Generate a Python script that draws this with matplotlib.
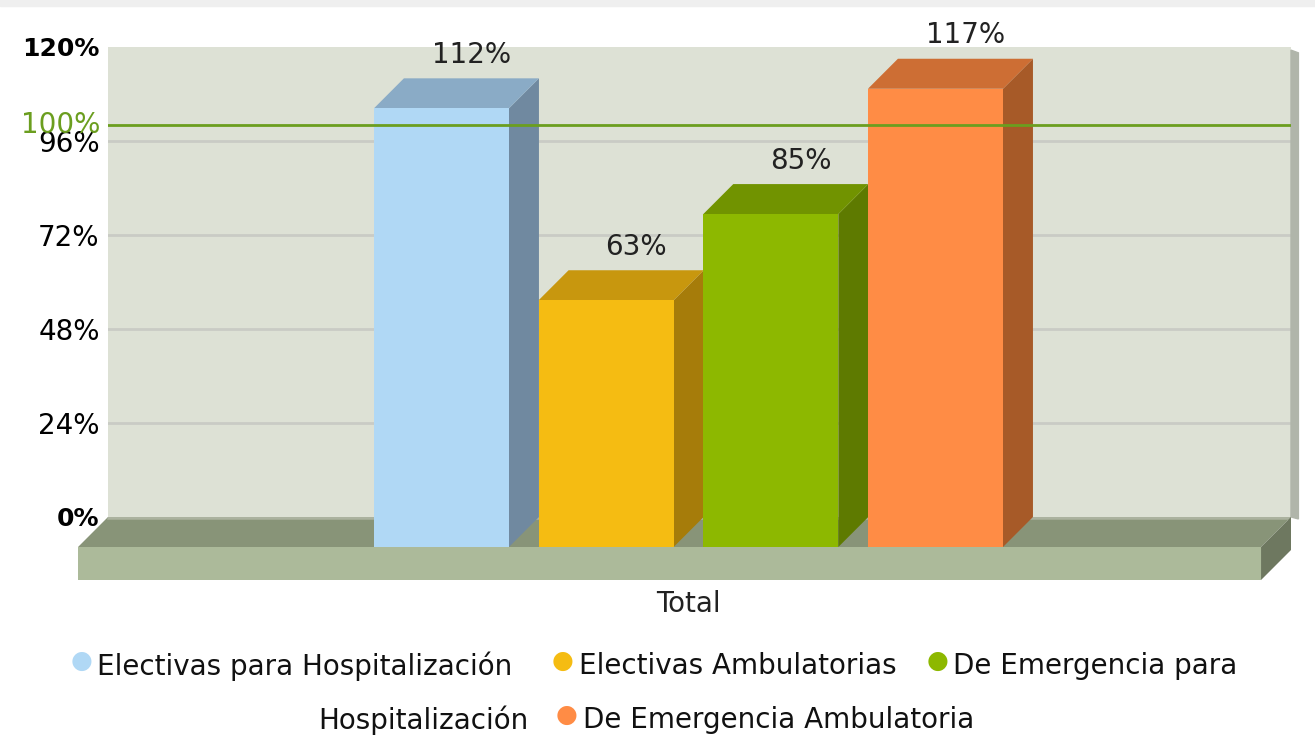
import numpy as np
import matplotlib
matplotlib.use("Agg")
import matplotlib.pyplot as plt
from matplotlib.patches import Polygon, Rectangle
from matplotlib.transforms import blended_transform_factory

plt.rcParams["font.family"] = ["DejaVu Sans"]

# data
series = ["Electivas para Hospitalización", "Electivas Ambulatorias",
          "De Emergencia para Hospitalización", "De Emergencia Ambulatoria"]
values = [112, 63, 85, 117]
category = "Total"
yticks = [0, 24, 48, 72, 96, 120]
target = 100

# colours: front, top, side
front_c = ["#B0D8F5", "#F5BC12", "#8DB800", "#FF8C45"]
top_c = ["#8AABC6", "#C8970E", "#719300", "#CD6E34"]
side_c = ["#7089A0", "#A67C0A", "#5E7A00", "#A75A28"]

FS = 20

W, H = 1315, 736
fig = plt.figure(figsize=(W / 100, H / 100), dpi=100)
fig.patch.set_facecolor("white")
fig.patches.append(Rectangle((0, 1 - 6 / H), 1, 6 / H, transform=fig.transFigure,
                             color="#EFEFEF", zorder=0))

ax = fig.add_axes([108 / W, (H - 517) / H, (1291 - 108) / W, (517 - 47) / H])
x0, x1 = -2.207, 4.977
ax.set_xlim(x0, x1)
ax.set_ylim(0, 120)
ax.set_facecolor("#DDE1D5")
for s in ax.spines.values():
    s.set_visible(False)
ax.set_xticks([])

# 3d depth in data units
DX, DY, FT = 0.182, 7.66, 8.43
bw = 0.82

# grid
for t in yticks[1:-1]:
    ax.axhline(t, color="#C9CBC5", lw=2, zorder=1)

# right wall strip
ax.add_patch(Polygon([(x1, 120 - 0.8), (x1 + 0.045, 120 - 1.5), (x1 + 0.045, -0.5), (x1, 0)],
                     closed=True, color="#B0B5AA", clip_on=False, zorder=1))

# floor
ax.add_patch(Polygon([(x0, 0), (x1, 0), (x1 - DX, -DY), (x0 - DX, -DY)], closed=True,
                     facecolor="#889478", edgecolor="none", clip_on=False, zorder=2))
ax.add_patch(Polygon([(x0, 0), (x1, 0), (x1 - 0.006, -0.7), (x0 - 0.006, -0.7)], closed=True,
                     facecolor="#ABB29F", edgecolor="none", clip_on=False, zorder=2))
ax.add_patch(Rectangle((x0 - DX, -DY - FT), x1 - x0, FT, facecolor="#ACBA9A",
                       edgecolor="none", clip_on=False, zorder=2))
ax.add_patch(Polygon([(x1 - DX, -DY), (x1, 0), (x1, -FT), (x1 - DX, -DY - FT)], closed=True,
                     facecolor="#6E7860", edgecolor="none", clip_on=False, zorder=2))

# bars
xs = np.arange(len(values))
for i, (x, v) in enumerate(zip(xs, values)):
    l, r = x - bw / 2, x + bw / 2
    ax.add_patch(Polygon([(r - DX, -DY), (r, 0), (r, v), (r - DX, v - DY)], closed=True,
                         facecolor=side_c[i], edgecolor="none", clip_on=False, zorder=4))
    ax.add_patch(Polygon([(l - DX, v - DY), (r - DX, v - DY), (r, v), (l, v)], closed=True,
                         facecolor=top_c[i], edgecolor="none", clip_on=False, zorder=4))
    ax.add_patch(Rectangle((l - DX, -DY), bw, v, facecolor=front_c[i],
                           edgecolor="none", clip_on=False, zorder=5))
    ax.annotate(f"{v}%", (x, v), xytext=(0, 11), textcoords="offset points",
                ha="center", va="baseline", fontsize=FS, color="#222222", zorder=6)

# target line drawn over bars like the original
ax.axhline(target, color="#6B9E1F", lw=2, zorder=7)

# y axis labels
ax.set_yticks(yticks)
ax.set_yticklabels([f"{t}%" for t in yticks], fontsize=FS)
ax.tick_params(axis="y", length=0, pad=6)
for lab, t in zip(ax.get_yticklabels(), yticks):
    if t in (0, 120):
        lab.set_fontweight("bold")
        lab.set_fontsize(18)
trans = blended_transform_factory(ax.transAxes, ax.transData)
ax.text(-0.0065, target, f"{target}%", transform=trans, ha="right", va="center",
        fontsize=FS, color="#6B9E1F")

fig.text(688 / W, 1 - 604 / H, category, ha="center", va="center", fontsize=FS, color="#222222")

# legend (wrapped like the original)
rows = [(661, 666), (715, 720)]
entries = [
    (82, 0, series[0], 97),
    (563, 0, series[1], 579),
    (938, 0, "De Emergencia para", 953),
    (None, 1, "Hospitalización", 318),
    (567, 1, series[3], 583),
]
ci = 0
for mx, r, txt, tx in entries:
    my, ty = rows[r]
    if mx is not None:
        fig.text(mx / W, 1 - my / H, "●", ha="center", va="center", fontsize=18,
                 color=front_c[ci])
        ci += 1
    fig.text(tx / W, 1 - ty / H, txt, ha="left", va="center", fontsize=FS, color="#111111")

fig.savefig("out.png", dpi=100)
